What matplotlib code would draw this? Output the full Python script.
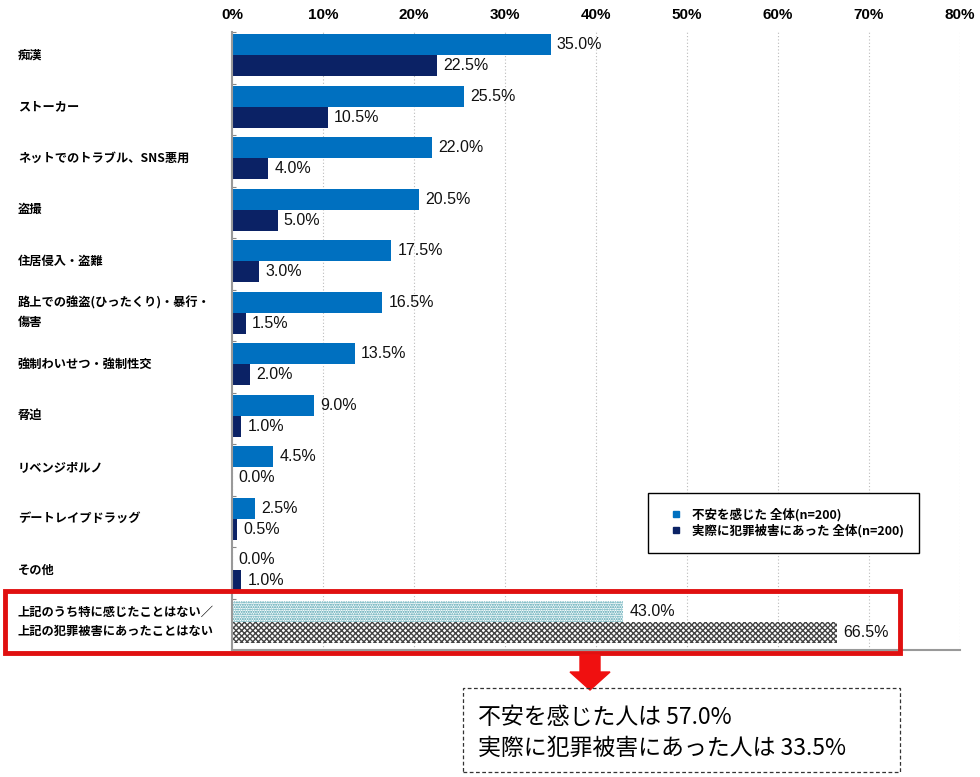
import numpy as np
import matplotlib.pyplot as plt
from matplotlib.patches import Rectangle, Polygon
from matplotlib.lines import Line2D

plt.rcParams['font.family'] = ['Noto Sans CJK JP', 'DejaVu Sans']

categories = ['痴漢', 'ストーカー', 'ネットでのトラブル、SNS悪用', '盗撮', '住居侵入・盗難',
              '路上での強盗(ひったくり)・暴行・\n傷害', '強制わいせつ・強制性交', '脅迫',
              'リベンジポルノ', 'デートレイプドラッグ', 'その他',
              '上記のうち特に感じたことはない／\n上記の犯罪被害にあったことはない']
anxiety = [35.0, 25.5, 22.0, 20.5, 17.5, 16.5, 13.5, 9.0, 4.5, 2.5, 0.0, 43.0]
victim = [22.5, 10.5, 4.0, 5.0, 3.0, 1.5, 2.0, 1.0, 0.0, 0.5, 1.0, 66.5]
xticks = [0, 10, 20, 30, 40, 50, 60, 70, 80]
series_names = ['不安を感じた 全体(n=200)', '実際に犯罪被害にあった 全体(n=200)']

blue = '#0070C0'
navy = '#0B2265'
numfont = ['Liberation Sans', 'DejaVu Sans']

fig = plt.figure(figsize=(9.8, 7.77), dpi=100)
ax = fig.add_axes([232/980, 1-650/777, 728/980, 618/777])

y = np.arange(len(categories))
h = 0.41
off = 0.05
n = len(categories)
for i in range(n):
    if i < n - 1:
        ax.barh(y[i] - off - h/2, anxiety[i], height=h, color=blue)
        ax.barh(y[i] - off + h/2, victim[i], height=h, color=navy)
    else:
        ax.barh(y[i] - off - h/2, anxiety[i], height=h, color='white',
                edgecolor='#3F9AA8', hatch='.......', linewidth=0)
        ax.barh(y[i] - off + h/2, victim[i], height=h, color='white',
                edgecolor='#444444', hatch='xxxxxx', linewidth=0)
    ax.text(anxiety[i] + 0.7, y[i] - off - h/2, f'{anxiety[i]:.1f}%',
            va='center', ha='left', fontsize=11.5, color='#111111', family=numfont)
    ax.text(victim[i] + 0.7, y[i] - off + h/2, f'{victim[i]:.1f}%',
            va='center', ha='left', fontsize=11.5, color='#111111', family=numfont)

ax.set_xlim(0, 80)
ax.set_ylim(n - 0.5, -0.5)
ax.set_xticks(xticks)
ax.set_xticklabels([f'{t}%' for t in xticks], fontsize=11, fontweight='bold', family=numfont)
ax.xaxis.tick_top()
ax.tick_params(axis='x', length=0, pad=7)
ax.set_yticks(np.arange(n + 1) - 0.5)
ax.set_yticklabels([])
ax.tick_params(axis='y', length=3, color='#888888', direction='in')
ax.grid(axis='x', linestyle=(0, (1, 2)), color='#BBBBBB', linewidth=0.8)
ax.set_axisbelow(True)
for s in ['top', 'right']:
    ax.spines[s].set_visible(False)
ax.spines['left'].set_color('#999999')
ax.spines['bottom'].set_color('#999999')
ax.spines['left'].set_linewidth(1.5)
ax.spines['bottom'].set_linewidth(1.5)

for i, c in enumerate(categories):
    ax.text(-214/728*80, y[i] - off, c, ha='left', va='center',
            fontsize=8.8, fontweight='bold', linespacing=1.6, clip_on=False)

handles = [Line2D([], [], marker='s', linestyle='none', color=blue, markersize=4),
           Line2D([], [], marker='s', linestyle='none', color=navy, markersize=4)]
leg = fig.legend(handles, series_names, loc='upper left',
                 bbox_to_anchor=(648/980, 1-493/777), prop={'size': 9, 'weight': 'bold'},
                 fancybox=False, edgecolor='black', framealpha=1, borderpad=1.2,
                 handletextpad=0.3, borderaxespad=0, labelspacing=0.2, handlelength=2.0)
leg.get_frame().set_linewidth(1.0)

# red highlight box
fig.patches.append(Rectangle((5/980, 1-653/777), 895/980, 62/777, transform=fig.transFigure,
                             fill=False, edgecolor='#E01010', linewidth=3.5))
# arrow
arrow_px = [(580, 655), (600, 655), (600, 672), (610, 672), (590, 690), (570, 672), (580, 672)]
fig.patches.append(Polygon([(px/980, 1-py/777) for px, py in arrow_px], closed=True,
                           transform=fig.transFigure, color='#F01010'))
# dashed summary box
fig.patches.append(Rectangle((463/980, 1-772/777), 437/980, 84/777, transform=fig.transFigure,
                             fill=False, edgecolor='#333333', linewidth=0.9, linestyle=(0, (3, 2))))
fig.text(478/980, 1-717/777, '不安を感じた人は 57.0%', fontsize=16.5, va='center', ha='left')
fig.text(478/980, 1-748/777, '実際に犯罪被害にあった人は 33.5%', fontsize=16.5, va='center', ha='left')

fig.savefig('out.png', dpi=100)
